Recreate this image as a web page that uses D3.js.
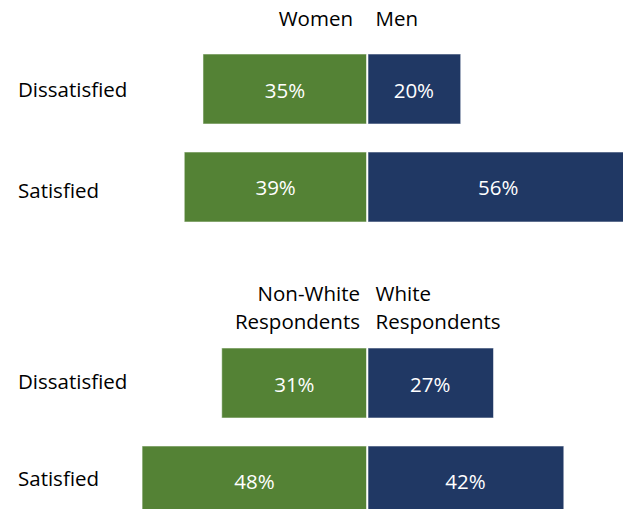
<!DOCTYPE html>
<html>
<head>
<meta charset="utf-8">
<script src="https://cdn.jsdelivr.net/npm/d3@7"></script>
<style>
  html, body { margin: 0; padding: 0; background: #fff; }
  svg { display: block; }
  text { font-family: "Open Sans", "Noto Sans", sans-serif; font-size: 20.5px; }
</style>
</head>
<body>
<svg id="chart" width="623" height="509"></svg>
<script>
// Satisfaction by gender and by race, shown as diverging bars
const categories = ["Dissatisfied", "Satisfied"];

const genderLeftName = ["Women"];
const genderRightName = ["Men"];
const womenValues = [35, 39];
const menValues = [20, 56];

const raceLeftName = ["Non-White", "Respondents"];
const raceRightName = ["White", "Respondents"];
const nonWhiteValues = [31, 48];
const whiteValues = [27, 42];

const GREEN = "#548235";
const NAVY = "#203864";

const W = 623, H = 509;
const svg = d3.select("#chart");

// Shared horizontal scale: 0 sits on the divider between the two groups
const x = d3.scaleLinear().domain([-50, 50]).range([367 - 234.3, 367 + 234.3]);

function panel(opts) {
  const y = d3.scaleBand()
    .domain(categories)
    .range([opts.top, opts.top + 168])
    .paddingInner(0.2857)
    .paddingOuter(0);

  const g = svg.append("g");
  const rows = categories.map((c, i) => ({ c, i, l: opts.leftVals[i], r: opts.rightVals[i] }));
  const mid = d => y(d.c) + y.bandwidth() / 2;

  // left-hand (green) bars grow leftwards from the divider
  g.selectAll("rect.left").data(rows).join("rect")
    .attr("class", "left")
    .attr("x", d => x(-d.l))
    .attr("y", d => y(d.c))
    .attr("width", d => x(0) - x(-d.l) - 0.5)
    .attr("height", y.bandwidth())
    .attr("fill", GREEN)
    .attr("stroke", "#ffffff")
    .attr("stroke-opacity", 0.55)
    .attr("stroke-width", 1);

  // right-hand (navy) bars grow rightwards
  g.selectAll("rect.right").data(rows).join("rect")
    .attr("class", "right")
    .attr("x", x(0) + 1)
    .attr("y", d => y(d.c))
    .attr("width", d => x(d.r) - x(0) - 1)
    .attr("height", y.bandwidth())
    .attr("fill", NAVY)
    .attr("stroke", "#ffffff")
    .attr("stroke-opacity", 0.55)
    .attr("stroke-width", 1);

  // value labels, centred inside each bar
  g.selectAll("text.lv").data(rows).join("text")
    .attr("class", "lv")
    .attr("x", d => (x(-d.l) + x(0)) / 2)
    .attr("y", d => mid(d) + 8.5)
    .attr("text-anchor", "middle")
    .attr("fill", "#fff")
    .text(d => d.l + "%");

  g.selectAll("text.rv").data(rows).join("text")
    .attr("class", "rv")
    .attr("x", d => (x(0) + x(d.r)) / 2)
    .attr("y", d => mid(d) + 8.5)
    .attr("text-anchor", "middle")
    .attr("fill", "#fff")
    .text(d => d.r + "%");

  // category labels
  g.selectAll("text.cat").data(rows).join("text")
    .attr("class", "cat")
    .attr("x", 18)
    .attr("y", d => mid(d) + opts.catShift[d.i])
    .attr("fill", "#000")
    .text(d => d.c);

  // group headings either side of the divider
  const lineH = 28;
  opts.leftName.forEach((t, i) => {
    g.append("text")
      .attr("x", x(0) - opts.leftGap)
      .attr("y", opts.headerBaseline + i * lineH)
      .attr("text-anchor", "end")
      .attr("fill", "#000")
      .text(t);
  });
  opts.rightName.forEach((t, i) => {
    g.append("text")
      .attr("x", x(0) + 8.5)
      .attr("y", opts.headerBaseline + i * lineH)
      .attr("text-anchor", "start")
      .attr("fill", "#000")
      .text(t);
  });
}

panel({
  top: 54, leftName: genderLeftName, rightName: genderRightName,
  leftVals: womenValues, rightVals: menValues,
  headerBaseline: 26, leftGap: 14, catShift: [7.7, 11]
});
panel({
  top: 348, leftName: raceLeftName, rightName: raceRightName,
  leftVals: nonWhiteValues, rightVals: whiteValues,
  headerBaseline: 301, leftGap: 7, catShift: [5.7, 4.7]
});
</script>
</body>
</html>
